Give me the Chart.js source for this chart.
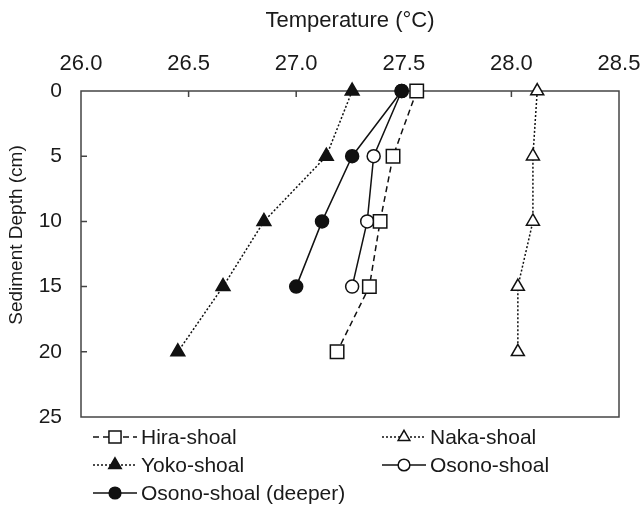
<html>
<head>
    <meta charset="utf-8">
    <title>Sediment temperature</title>
    <style>
        body { margin: 0; background: #fff; }
        canvas { display: block; }
    </style>
</head>
<body>
    <canvas id="myChart" width="641" height="509"></canvas>
</body>
<script src="https://cdn.jsdelivr.net/npm/chart.js"></script>
<script>
    // depth (cm) on y, temperature (°C) on x
    const depths = [0, 5, 10, 15, 20]
    const hiraTemp = [27.56, 27.45, 27.39, 27.34, 27.19]
    const nakaTemp = [28.12, 28.10, 28.10, 28.03, 28.03]
    const yokoTemp = [27.26, 27.14, 26.85, 26.66, 26.45]
    const osonoTemp = [27.49, 27.36, 27.33, 27.26]
    const deeperTemp = [27.49, 27.26, 27.12, 27.00]

    const tempTicks = [26.0, 26.5, 27.0, 27.5, 28.0, 28.5]
    const depthTicks = [0, 5, 10, 15, 20, 25]

    const FONT = '"Liberation Sans", Arial, sans-serif'
    const INK = '#111'

    const pts = (temps) => temps.map((t, i) => ({ x: t, y: depths[i] }))

    const series = [
        { label: 'Hira-shoal', data: pts(hiraTemp), pointStyle: 'rect', radius: 9.5, fill: '#fff', dash: [6, 4], order: 1 },
        { label: 'Naka-shoal', data: pts(nakaTemp), pointStyle: 'triangle', radius: 7.5, fill: '#fff', dash: [2, 2], order: 4 },
        { label: 'Yoko-shoal', data: pts(yokoTemp), pointStyle: 'triangle', radius: 8, fill: INK, dash: [2, 2], order: 3 },
        { label: 'Osono-shoal', data: pts(osonoTemp), pointStyle: 'circle', radius: 6.5, fill: '#fff', dash: [], order: 2 },
        { label: 'Osono-shoal (deeper)', data: pts(deeperTemp), pointStyle: 'circle', radius: 6.5, fill: INK, dash: [], order: 0 }
    ]

    // legend placement: [column x, row y]
    const legendSpots = [[93, 437], [382, 437], [93, 465], [382, 465], [93, 493]]

    const frame = {
        id: 'frame',
        beforeDatasetsDraw(chart) {
            const { ctx, chartArea: a, scales } = chart
            ctx.save()
            ctx.strokeStyle = '#444'
            ctx.lineWidth = 1.5
            ctx.strokeRect(a.left, a.top, a.right - a.left, a.bottom - a.top)
            ctx.beginPath()
            scales.x.ticks.forEach(t => {
                const px = scales.x.getPixelForValue(t.value)
                if (px > a.left + 1 && px < a.right - 1) {
                    ctx.moveTo(px, a.top)
                    ctx.lineTo(px, a.top + 6)
                }
            })
            scales.y.ticks.forEach(t => {
                const py = scales.y.getPixelForValue(t.value)
                if (py > a.top + 1 && py < a.bottom - 1) {
                    ctx.moveTo(a.left, py)
                    ctx.lineTo(a.left + 6, py)
                }
            })
            ctx.stroke()
            ctx.restore()
        },
        afterDraw(chart) {
            const ctx = chart.ctx
            ctx.save()
            // y axis title
            ctx.fillStyle = '#1a1a1a'
            ctx.font = '19px ' + FONT
            ctx.textAlign = 'center'
            ctx.textBaseline = 'middle'
            ctx.translate(17, 235)
            ctx.rotate(-Math.PI / 2)
            ctx.fillText('Sediment Depth (cm)', 0, 0)
            ctx.restore()

            // legend
            chart.data.datasets.forEach((ds, i) => {
                const [lx, ly] = legendSpots[i]
                ctx.save()
                ctx.strokeStyle = INK
                ctx.lineWidth = 1.5
                ctx.setLineDash(ds.borderDash)
                ctx.beginPath()
                ctx.moveTo(lx, ly)
                ctx.lineTo(lx + 44, ly)
                ctx.stroke()
                ctx.setLineDash([])
                ctx.fillStyle = ds.pointBackgroundColor
                ctx.strokeStyle = INK
                Chart.helpers.drawPoint(ctx, {
                    pointStyle: ds.pointStyle,
                    rotation: 0,
                    radius: ds.pointRadius * 0.9,
                    borderWidth: 1.5
                }, lx + 22, ly)
                ctx.fillStyle = '#1a1a1a'
                ctx.font = '21px ' + FONT
                ctx.textAlign = 'left'
                ctx.textBaseline = 'middle'
                ctx.fillText(ds.label, lx + 48, ly + 1)
                ctx.restore()
            })
        }
    }

    const ctx = document.getElementById('myChart').getContext('2d')
    new Chart(ctx, {
        type: 'scatter',
        data: {
            datasets: series.map(s => ({
                label: s.label,
                data: s.data,
                showLine: true,
                borderColor: INK,
                borderWidth: 1.5,
                borderDash: s.dash,
                pointStyle: s.pointStyle,
                pointRadius: s.radius,
                pointHoverRadius: s.radius,
                pointBackgroundColor: s.fill,
                pointBorderColor: INK,
                pointBorderWidth: 1.5,
                order: s.order,
                clip: false
            }))
        },
        options: {
            responsive: false,
            animation: false,
            events: [],
            layout: { padding: { left: 0, top: 0, right: 22, bottom: 92 } },
            plugins: {
                legend: { display: false },
                tooltip: { enabled: false }
            },
            scales: {
                x: {
                    type: 'linear',
                    position: 'top',
                    min: 26,
                    max: 28.5,
                    afterBuildTicks: (s) => { s.ticks = tempTicks.map(v => ({ value: v })) },
                    afterFit: (s) => {
                        s.height = 91
                        s.paddingLeft = 0
                        s.paddingRight = 0
                    },
                    grid: { display: false, drawTicks: false },
                    border: { display: false },
                    ticks: {
                        color: '#1a1a1a',
                        font: { family: FONT, size: 22 },
                        padding: 14,
                        maxRotation: 0,
                        callback: (v) => v.toFixed(1)
                    },
                    title: {
                        display: true,
                        text: 'Temperature (°C)',
                        color: '#1a1a1a',
                        font: { family: FONT, size: 22 },
                        padding: { top: 8, bottom: 0 }
                    }
                },
                y: {
                    type: 'linear',
                    reverse: true,
                    min: 0,
                    max: 25,
                    afterBuildTicks: (s) => { s.ticks = depthTicks.map(v => ({ value: v })) },
                    afterFit: (s) => { s.width = 81 },
                    grid: { display: false, drawTicks: false },
                    border: { display: false },
                    ticks: {
                        color: '#1a1a1a',
                        font: { family: FONT, size: 21 },
                        padding: 19
                    }
                }
            }
        },
        plugins: [frame]
    })
</script>
</html>
